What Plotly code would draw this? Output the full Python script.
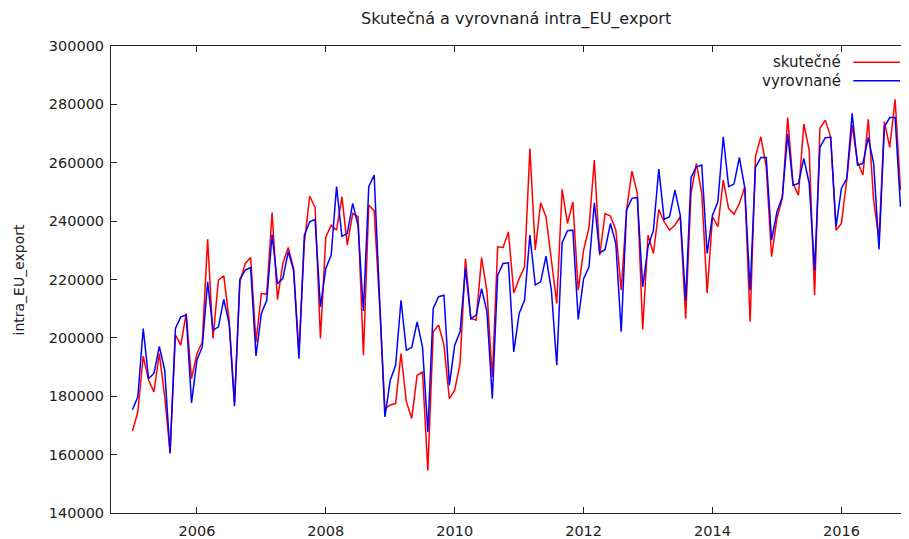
import plotly.graph_objects as go
import pandas as pd

# Monthly periods (Jan 2005 - Dec 2016)
months = pd.period_range("2005-01", "2016-12", freq="M")

# Actual values (skutečné), thousands
skutecne_k = [
    168.1, 174.6, 193.7, 185.5, 181.5, 194.6, 180.0, 160.9, 201.0, 197.5, 208.4, 186.0,
    194.6, 198.6, 233.8, 199.8, 219.8, 221.3, 206.1, 178.0, 219.2, 225.5, 227.5, 198.6,
    215.2, 215.0, 242.9, 213.1, 225.5, 231.0, 223.8, 195.0, 232.4, 248.6, 244.7, 199.8,
    234.6, 238.6, 236.9, 248.4, 231.8, 242.6, 241.5, 194.1, 245.5, 243.5, 212.0, 175.8,
    177.0, 177.5, 194.6, 178.1, 172.4, 187.2, 188.3, 154.6, 202.1, 204.4, 197.5, 179.2,
    182.1, 191.2, 227.2, 206.6, 206.1, 227.5, 216.0, 186.6, 231.2, 231.0, 236.3, 215.4,
    220.3, 224.3, 264.9, 230.1, 246.3, 241.5, 226.6, 211.8, 250.9, 239.2, 246.6, 216.3,
    230.1, 237.8, 260.9, 228.3, 242.6, 241.7, 236.9, 216.3, 243.8, 257.1, 249.5, 202.9,
    235.2, 228.9, 244.0, 239.8, 236.9, 238.6, 241.5, 206.6, 249.5, 259.8, 249.5, 215.4,
    241.5, 238.1, 254.1, 244.3, 242.4, 246.0, 251.8, 205.5, 262.1, 268.9, 258.6, 227.8,
    240.9, 247.8, 275.5, 252.9, 248.9, 273.3, 264.3, 214.6, 271.8, 274.6, 268.9, 236.9,
    239.2, 254.1, 272.9, 260.3, 255.8, 274.9, 247.2, 233.5, 274.1, 265.3, 281.7, 250.6,
]

# Fitted values (vyrovnané), thousands
vyrovnane_k = [
    175.4, 179.8, 203.2, 186.1, 187.8, 197.1, 189.0, 160.4, 203.2, 207.2, 207.8, 177.7,
    192.4, 196.9, 219.2, 202.6, 203.8, 213.2, 204.9, 176.6, 220.1, 223.2, 224.1, 193.8,
    208.4, 212.9, 235.4, 218.6, 220.3, 229.5, 223.2, 192.9, 235.2, 239.8, 240.6, 210.6,
    223.8, 228.4, 251.8, 234.8, 235.8, 246.1, 238.6, 209.2, 251.8, 255.8, 214.0, 172.9,
    185.5, 190.6, 212.9, 195.8, 196.7, 205.5, 196.9, 167.8, 210.1, 214.1, 214.6, 183.8,
    197.5, 202.1, 223.8, 206.6, 207.8, 216.9, 209.0, 179.2, 221.5, 225.5, 225.7, 195.2,
    208.4, 212.9, 235.2, 218.1, 219.2, 228.0, 216.3, 190.6, 232.6, 236.7, 236.9, 206.3,
    220.3, 224.3, 246.3, 229.1, 230.3, 239.2, 232.3, 202.1, 243.8, 247.8, 248.1, 217.5,
    231.2, 236.9, 257.8, 240.6, 241.5, 250.6, 242.0, 212.7, 255.0, 258.6, 259.2, 228.9,
    242.0, 246.6, 268.9, 251.8, 252.7, 261.8, 251.5, 216.3, 258.4, 261.8, 261.8, 233.5,
    243.2, 248.3, 269.8, 252.3, 252.9, 261.5, 252.9, 223.2, 265.3, 268.6, 268.7, 238.1,
    251.2, 254.6, 276.9, 259.2, 259.8, 268.7, 259.8, 230.3, 272.3, 275.5, 275.5, 244.9,
]

x_tick_vals = [2006, 2008, 2010, 2012, 2014, 2016]
y_tick_vals = [140000, 160000, 180000, 200000, 220000, 240000, 260000, 280000, 300000]

x = [p.year + (p.month - 1) / 12 for p in months]
skutecne = [v * 1000 for v in skutecne_k]
vyrovnane = [v * 1000 for v in vyrovnane_k]

FONT = "DejaVu Sans"
TXT = "#222222"

# The page body adds an 8px offset; figure sized to fill the rest of the window.
W, H = 901, 531
L, T, B = 103, 38, 26
PW = W - L            # plot width in px
PH = H - T - B        # plot height in px

def px_x(xpage):      # page x -> paper x
    return (xpage - 8 - L) / PW

def px_y(ypage):      # page y -> paper y
    return (H - B + 8 - ypage) / PH

fig = go.Figure()
fig.add_trace(go.Scatter(x=x, y=skutecne, mode="lines", name="skutečné",
                         line=dict(color="#ff0000", width=1.5)))
fig.add_trace(go.Scatter(x=x, y=vyrovnane, mode="lines", name="vyrovnané",
                         line=dict(color="#0000ff", width=1.5)))

fig.update_layout(
    width=W, height=H,
    margin=dict(l=L, r=0, t=T, b=B, autoexpand=False),
    paper_bgcolor="white", plot_bgcolor="white",
    showlegend=False,
    font=dict(family=FONT, size=14.5, color=TXT),
)
fig.update_xaxes(
    range=[2004.667, 2004.667 + PW / 64.45], tickvals=x_tick_vals,
    ticktext=[str(v) for v in x_tick_vals], automargin=False,
    showgrid=False, zeroline=False, showline=True, linecolor="#222222", linewidth=1,
    mirror="ticks", ticks="inside", ticklen=6, tickcolor="#222222",
    ticklabelstandoff=5,
    tickfont=dict(family=FONT, size=14.5, color=TXT),
)
fig.update_yaxes(
    range=[140000, 300000], tickvals=y_tick_vals, ticktext=[str(v) for v in y_tick_vals],
    automargin=False,
    showgrid=False, zeroline=False, showline=True, linecolor="#222222", linewidth=1,
    ticks="inside", ticklen=6, tickcolor="#222222", ticklabelstandoff=3,
    tickfont=dict(family=FONT, size=14.5, color=TXT),
)

# Title
fig.add_annotation(text="Skutečná a vyrovnaná intra_EU_export", xref="paper", yref="paper",
                   x=px_x(515.8), y=px_y(18.5), showarrow=False,
                   xanchor="center", yanchor="middle",
                   font=dict(family=FONT, size=16, color=TXT))

# Y-axis title
fig.add_annotation(text="intra_EU_export", xref="paper", yref="paper",
                   x=px_x(18), y=0.5, textangle=-90, showarrow=False,
                   xanchor="center", yanchor="middle",
                   font=dict(family=FONT, size=14, color=TXT))

# Gnuplot-style key: text right-aligned, sample line to the right
key = [("skutečné", "#ff0000", 62.3), ("vyrovnané", "#0000ff", 80.7)]
for label, color, ypx in key:
    yp = px_y(ypx)
    fig.add_annotation(text=label, xref="paper", yref="paper",
                       x=px_x(843), y=yp, showarrow=False,
                       xanchor="right", yanchor="middle",
                       font=dict(family=FONT, size=15, color=TXT))
    fig.add_shape(type="line", xref="paper", yref="paper",
                  x0=px_x(853.3), x1=px_x(900), y0=yp, y1=yp,
                  line=dict(color=color, width=1.5))

fig.write_html("out.html")
